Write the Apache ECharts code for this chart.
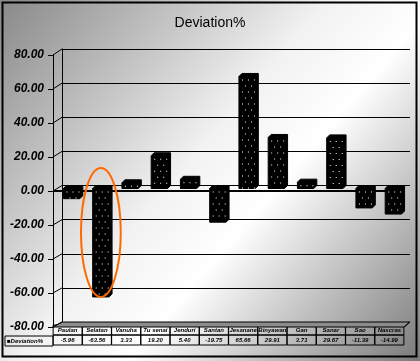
<!DOCTYPE html>
<html><head><meta charset="utf-8">
<script src="https://cdn.jsdelivr.net/npm/echarts@6/dist/echarts.min.js"></script>
<style>html,body{margin:0;padding:0;background:#fff}#c{width:420px;height:361px}</style>
</head><body><div id="c"></div>
<script>
const titleText = 'Deviation%';
const seriesName = 'Deviation%';
const categories = ['Paulan','Selatan','Vanuha','Tu senai','Jenduri','Santan','Jesanane','Binyawan','Gan','Sanar','Sao','Nascras'];
const values = [-5.96, -63.56, 3.33, 19.20, 5.40, -19.75, 65.66, 29.91, 3.71, 29.67, -11.39, -14.99];
const yMin = -80, yMax = 80, yStep = 20;
const highlightIndex = 1;
const highlightTop = 12;

const chart = echarts.init(document.getElementById('c'), null, {renderer:'canvas'});
const font = 'Liberation Sans, Arial, sans-serif';

function barItem(params, api){
  const i = api.value(0), v = api.value(1);
  const base = api.coord([i, 0]);
  const top = api.coord([i, v]);
  const w = api.size([1, 0])[0] * 0.56;
  const x0 = base[0] - w / 2, x1 = x0 + w;
  const ya = Math.min(base[1], top[1]), yb = Math.max(base[1], top[1]);
  const d = 3;
  const children = [{
    type:'polygon',
    shape:{points:[[x0,ya],[x0+d,ya-d],[x1+d,ya-d],[x1+d,yb-d],[x1,yb],[x0,yb]]},
    style:{fill:'#000', stroke:'#000', lineWidth:1}
  }];
  let row = 0;
  for (let y = ya + 3; y < yb - 1; y += 6, row++) {
    for (let x = x0 + 3 + (row % 2) * 3; x < x1 - 1; x += 6) {
      children.push({type:'rect', shape:{x:x, y:y, width:1, height:1}, style:{fill:'#fff'}});
    }
  }
  return {type:'group', children};
}

const option = {
  animation:false,
  backgroundColor:{type:'linear', x:0, y:0, x2:1, y2:1, colorStops:[
    {offset:0, color:'#888888'},{offset:0.45, color:'#f2f2f2'},{offset:0.6, color:'#ffffff'},{offset:1, color:'#7a7a7a'}]},
  title:{text:titleText, left:'center', top:11, textStyle:{fontFamily:font, fontWeight:'normal', fontSize:14, color:'#000'}},
  grid:[
    {left:62, right:10, top:49, bottom:39},
    {left:57, right:12, top:52, bottom:36},
    {left:53, right:16, top:55, bottom:34}
  ],
  xAxis:[
    {gridIndex:0, type:'category', data:categories, axisLine:{show:false}, axisTick:{show:false}, axisLabel:{show:false}},
    {gridIndex:1, type:'category', data:categories, show:false},
    {gridIndex:2, type:'category', data:categories, axisLine:{show:false}, axisTick:{show:false},
     axisLabel:{interval:0, margin:-2, hideOverlap:false,
       formatter:(val, idx) => '{n|' + val + '}\n{v|' + values[idx].toFixed(2) + '}',
       rich:{
         n:{width:27, height:10, align:'center', fontSize:6, fontStyle:'italic', fontWeight:'bold', fontFamily:font, color:'#000', borderColor:'#000', borderWidth:1, padding:[0,1]},
         v:{width:27, height:10, align:'center', fontSize:6, fontStyle:'italic', fontWeight:'bold', fontFamily:font, color:'#000', borderColor:'#000', borderWidth:1, padding:[0,1]}
       }}}
  ],
  yAxis:[
    {gridIndex:0, type:'value', min:yMin, max:yMax, interval:yStep,
     axisLine:{show:true, lineStyle:{color:'#000', width:1}}, axisTick:{show:false}, axisLabel:{show:false},
     splitLine:{show:true, lineStyle:{color:'#000', width:1}}},
    {gridIndex:1, type:'value', min:yMin, max:yMax, interval:yStep, show:false},
    {gridIndex:2, type:'value', min:yMin, max:yMax, interval:yStep,
     axisLine:{show:true, lineStyle:{color:'#000', width:1}},
     axisTick:{show:true, length:5, lineStyle:{color:'#000'}},
     splitLine:{show:false},
     axisLabel:{margin:9, formatter:v => v.toFixed(2), fontFamily:font, fontSize:12, fontWeight:'bold', fontStyle:'italic', color:'#000'}}
  ],
  series:[
    {name:seriesName, type:'custom', xAxisIndex:1, yAxisIndex:1, renderItem:barItem,
     data:values.map((v,i)=>[i,v]), z:5},
    {type:'line', xAxisIndex:2, yAxisIndex:2, data:[], silent:true,
     markLine:{symbol:'none', silent:true, label:{show:false},
       lineStyle:{color:'#000', width:2, type:'solid'}, data:[{yAxis:0}]}, z:6}
  ]
};
chart.setOption(option);

const P = (ax, pt) => chart.convertToPixel({xAxisIndex:ax, yAxisIndex:ax}, pt);
const g = [];
const backBL = P(0, [0, yMin]), frontBL = P(2, [0, yMin]);
const bw0 = P(0,[1,0])[0] - P(0,[0,0])[0], bw2 = P(2,[1,0])[0] - P(2,[0,0])[0];
const backLeft = backBL[0] - bw0/2, backRight = P(0,[categories.length-1,0])[0] + bw0/2;
const frontLeft = frontBL[0] - bw2/2, frontRight = P(2,[categories.length-1,0])[0] + bw2/2;
g.push({type:'polygon', z:1, shape:{points:[[backLeft,backBL[1]],[backRight,backBL[1]],[frontRight,frontBL[1]],[frontLeft,frontBL[1]]]},
  style:{fill:'#8c8c8c', stroke:'#000', lineWidth:1}});
for (let v = yMin; v <= yMax; v += yStep) {
  const f = P(2, [0, v]), b = P(0, [0, v]);
  g.push({type:'line', z:2, shape:{x1:frontLeft, y1:f[1], x2:backLeft, y2:b[1]}, style:{stroke:'#000', lineWidth:1}});
}
g.push({type:'line', z:2, shape:{x1:frontRight, y1:frontBL[1], x2:backRight, y2:backBL[1]}, style:{stroke:'#000', lineWidth:1}});
const tableTop = frontBL[1] - 1;
g.push({type:'rect', z:3, shape:{x:5, y:tableTop+10, width:frontLeft-5, height:10}, style:{fill:'none', stroke:'#000', lineWidth:1}});
g.push({type:'text', z:3, x:7, y:tableTop+12, style:{text:'■' + seriesName, fontSize:6, fontWeight:'bold', fontStyle:'italic', fontFamily:font, fill:'#000'}});
const et = P(1, [highlightIndex, highlightTop]), eb = P(1, [highlightIndex, values[highlightIndex]]);
const bw1 = P(1,[1,0])[0] - P(1,[0,0])[0];
g.push({type:'ellipse', z:10, shape:{cx:et[0], cy:(et[1]+eb[1])/2, rx:bw1*0.68, ry:(eb[1]-et[1])/2},
  style:{fill:'none', stroke:'#ff6a00', lineWidth:2}});
g.push({type:'rect', z:20, shape:{x:2.5, y:2.5, width:414, height:354}, style:{fill:'none', stroke:'#000', lineWidth:2}});
chart.setOption({graphic:g});
</script></body></html>
